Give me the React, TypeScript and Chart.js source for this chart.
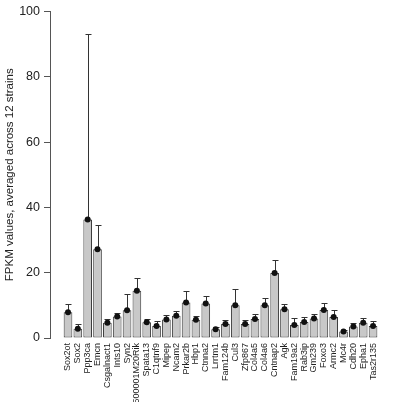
import React, { useEffect, useRef } from "react";
import { Chart, registerables } from "chart.js";

Chart.register(...registerables);

const genes = [
  "Sox2ot", "Sox2", "Ppp3ca", "Emcn", "Csgalnact1", "Ints10", "Syn2", "1500001M20Rik",
  "Spata13", "C1qtnf9", "Mipep", "Ncam2", "Prkar2b", "Hbp1", "Ctnna2", "Lrrtm1",
  "Fam124b", "Cul3", "Zfp867", "Col4a5", "Col4a6", "Cntnap2", "Agk", "Fam19a2",
  "Rab3ip", "Gm239", "Foxo3", "Armc2", "Mc4r", "Cdh20", "Epha1", "Tas2r135",
];
const means = [
  7.9, 2.8, 36.3, 27.2, 4.7, 6.6, 8.5, 14.5,
  4.8, 3.7, 5.7, 6.8, 10.9, 5.6, 10.6, 2.7,
  4.3, 10.0, 4.3, 5.8, 10.0, 19.9, 8.8, 4.0,
  4.9, 6.0, 8.6, 6.4, 2.0, 3.5, 4.7, 3.7,
];
const upper = [
  10.4, 4.2, 93.2, 34.5, 5.9, 7.7, 13.6, 18.3,
  5.8, 5.2, 7.0, 8.3, 14.3, 6.8, 12.9, 3.5,
  5.6, 15.0, 5.6, 7.2, 12.3, 24.0, 10.4, 6.0,
  6.5, 7.5, 10.7, 8.6, 2.6, 4.5, 6.1, 5.3,
];
const yTicks = [0, 20, 40, 60, 80, 100];
const yTitle = "FPKM values, averaged across 12 strains";

const FONT = "'Liberation Sans', Arial, Helvetica, sans-serif";

const errorBarPlugin = {
  id: "errorBars",
  afterDatasetDraw(chart: any, args: any) {
    if (args.index !== 0) return;
    const { ctx, scales } = chart;
    const xs = scales.x;
    const ys = scales.y;
    ctx.save();
    ctx.strokeStyle = "#333";
    ctx.lineWidth = 1;
    means.forEach((m, i) => {
      const x = Math.round(xs.getPixelForValue(i)) + 0.5;
      const y0 = ys.getPixelForValue(m);
      const y1 = Math.round(ys.getPixelForValue(upper[i])) + 0.5;
      ctx.beginPath();
      ctx.moveTo(x, y0);
      ctx.lineTo(x, y1);
      ctx.moveTo(x - 3, y1);
      ctx.lineTo(x + 3, y1);
      ctx.stroke();
    });
    ctx.restore();
  },
};

export default function App() {
  const ref = useRef<HTMLCanvasElement | null>(null);

  useEffect(() => {
    if (!ref.current) return;
    const spacing = 9.84;
    const firstCenter = 68;
    const left = 50;
    const width = 340;
    const xMin = -(firstCenter - left) / spacing;
    const xMax = xMin + width / spacing;

    const chart = new Chart(ref.current, {
      type: "bar",
      data: {
        datasets: [
          {
            type: "bar",
            data: means.map((v, i) => ({ x: i, y: v })),
            backgroundColor: "#c8c8c8",
            borderColor: "#3c3c3c",
            borderWidth: 1,
            borderSkipped: false,
            barPercentage: 0.88,
            categoryPercentage: 1,
            order: 2,
          } as any,
          {
            type: "line",
            data: means.map((v, i) => ({ x: i, y: v })),
            showLine: false,
            pointRadius: 3,
            pointBackgroundColor: "#111",
            pointBorderWidth: 0,
            order: 1,
          } as any,
        ],
      },
      options: {
        animation: false,
        responsive: true,
        maintainAspectRatio: false,
        layout: { padding: { top: 6, right: 16, bottom: 0, left: 0 } },
        plugins: { legend: { display: false }, tooltip: { enabled: false } },
        scales: {
          x: {
            type: "linear",
            min: xMin,
            max: xMax,
            offset: false,
            grid: { display: false, drawTicks: false },
            border: { display: false },
            afterBuildTicks: (scale: any) => {
              scale.ticks = genes.map((_, i) => ({ value: i }));
            },
            afterFit: (scale: any) => {
              scale.height = 64;
            },
            ticks: {
              autoSkip: false,
              maxRotation: 90,
              minRotation: 90,
              padding: 5,
              color: "#222",
              font: { family: FONT, size: 9 },
              callback: (v: any) => genes[v as number] ?? "",
            },
          },
          y: {
            type: "linear",
            min: 0,
            max: 100,
            afterBuildTicks: (scale: any) => {
              scale.ticks = yTicks.map((v) => ({ value: v }));
            },
            afterFit: (scale: any) => {
              scale.width = 50;
            },
            grid: {
              drawOnChartArea: false,
              drawTicks: true,
              tickLength: 6,
              color: "#555",
            },
            border: { display: true, color: "#555", width: 1 },
            ticks: {
              padding: 4,
              color: "#222",
              font: { family: FONT, size: 12.5 },
            },
            title: {
              display: true,
              text: yTitle,
              color: "#222",
              font: { family: FONT, size: 11.5 },
              padding: { top: 3, bottom: 0 },
            },
          },
        },
      } as any,
      plugins: [errorBarPlugin],
    });
    return () => chart.destroy();
  }, []);

  return (
    <div style={{ position: "absolute", left: 0, top: 0, width: 406, height: 402, background: "#fff" }}>
      <canvas ref={ref} />
    </div>
  );
}
